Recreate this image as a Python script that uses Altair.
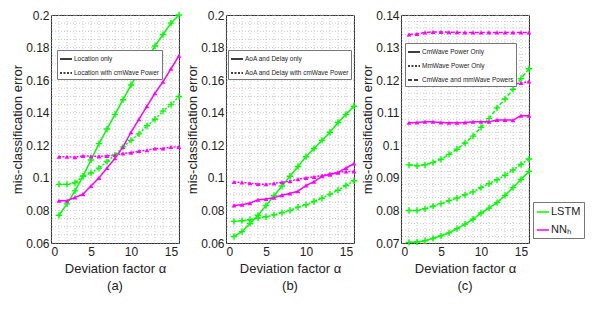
import altair as alt
import pandas as pd
import numpy as np

alpha = list(range(1, 17))
models = ["LSTM", "NNₕ"]
model_colors = ["#00ff00", "#ff00ff"]

# ---------------- panel (a) ----------------
a_styles = ["Location only", "Location with cmWave Power"]
a_lstm_loc = [0.077, 0.084, 0.092, 0.101, 0.111, 0.121, 0.130, 0.139, 0.148, 0.157, 0.165, 0.173, 0.181, 0.188, 0.195, 0.200]
a_lstm_cm = [0.096, 0.096, 0.097, 0.101, 0.103, 0.106, 0.110, 0.114, 0.119, 0.123, 0.127, 0.132, 0.136, 0.141, 0.145, 0.150]
a_nn_loc = [0.086, 0.086, 0.088, 0.090, 0.095, 0.100, 0.106, 0.112, 0.119, 0.128, 0.136, 0.144, 0.152, 0.159, 0.167, 0.175]
a_nn_cm = [0.113, 0.113, 0.1127, 0.1135, 0.1132, 0.1132, 0.1135, 0.114, 0.115, 0.1155, 0.1165, 0.117, 0.118, 0.118, 0.119, 0.119]

# ---------------- panel (b) ----------------
b_styles = ["AoA and Delay only", "AoA and Delay with cmWave Power"]
b_lstm_ad = [0.064, 0.067, 0.072, 0.077, 0.083, 0.089, 0.095, 0.101, 0.107, 0.113, 0.118, 0.123, 0.128, 0.134, 0.139, 0.144]
b_lstm_cm = [0.0733, 0.0737, 0.0743, 0.0753, 0.0761, 0.0773, 0.0786, 0.0800, 0.0820, 0.0835, 0.0855, 0.0875, 0.0900, 0.0924, 0.0953, 0.0982]
b_nn_ad = [0.0831, 0.0835, 0.0845, 0.0865, 0.0870, 0.0878, 0.0894, 0.0904, 0.0918, 0.0953, 0.0976, 0.1010, 0.1020, 0.1033, 0.1060, 0.1088]
b_nn_cm = [0.0975, 0.0972, 0.0967, 0.0962, 0.0961, 0.0966, 0.0973, 0.0980, 0.0992, 0.1000, 0.1006, 0.1014, 0.1025, 0.1033, 0.1039, 0.1039]

# ---------------- panel (c) ----------------
c_styles = ["CmWave Power Only", "MmWave Power Only", "CmWave and mmWave Powers"]
c_lstm_cm = [0.0702, 0.0703, 0.0707, 0.0714, 0.0722, 0.0731, 0.0744, 0.0758, 0.0773, 0.0792, 0.0807, 0.0824, 0.0846, 0.0870, 0.0895, 0.0920]
c_lstm_mm = [0.0800, 0.0800, 0.0805, 0.0813, 0.0821, 0.0830, 0.0838, 0.0848, 0.0857, 0.0870, 0.0882, 0.0894, 0.0908, 0.0924, 0.0941, 0.0958]
c_lstm_both = [0.0940, 0.0937, 0.0940, 0.0947, 0.0957, 0.0972, 0.0988, 0.1007, 0.1028, 0.1055, 0.1082, 0.1115, 0.1142, 0.1172, 0.1205, 0.1235]
c_nn_cm = [0.1069, 0.1070, 0.1072, 0.1072, 0.1070, 0.1069, 0.1069, 0.1070, 0.1072, 0.1072, 0.1072, 0.1078, 0.1078, 0.1077, 0.1091, 0.1091]
c_nn_mm = [0.1195, 0.1196, 0.1198, 0.1194, 0.1193, 0.1193, 0.1192, 0.1192, 0.1191, 0.1191, 0.1190, 0.1190, 0.1187, 0.1188, 0.1191, 0.1196]
c_nn_both = [0.1340, 0.1342, 0.1346, 0.1348, 0.1348, 0.1347, 0.1347, 0.1346, 0.1346, 0.1346, 0.1346, 0.1346, 0.1346, 0.1346, 0.1346, 0.1346]

FONT = "Liberation Sans"
PLUS = "M-1,0L1,0M0,-1L0,1"
PW, PH = 128, 228


def long_df(styles, lstm_series, nn_series):
    rows = []
    for st, vals in zip(styles, lstm_series):
        for x, v in zip(alpha, vals):
            rows.append({"alpha": x, "err": v, "model": models[0], "style": st})
    for st, vals in zip(styles, nn_series):
        for x, v in zip(alpha, vals):
            rows.append({"alpha": x, "err": v, "model": models[1], "style": st})
    return pd.DataFrame(rows)


def panel(df, styles, dashes, ydom, ymajor, yminor, dash_leg_xy, caption, color_legend):
    xs = alt.Scale(domain=[0, 16], nice=False, zero=False)
    ys = alt.Scale(domain=ydom, nice=False, zero=False)
    xgrid = pd.DataFrame({"alpha": np.arange(0, 17, 1)})
    ygrid = pd.DataFrame({"err": np.round(np.arange(ydom[0], ydom[1] + 1e-9, yminor), 4)})
    yvals = [float(v) for v in np.round(np.arange(ydom[0], ydom[1] + 1e-9, ymajor), 4)]

    xaxis = alt.Axis(values=[0, 5, 10, 15], grid=False, domain=False, ticks=False,
                     title="Deviation factor α", labelPadding=3, titlePadding=5)
    yaxis = alt.Axis(values=yvals, format="~g", grid=False, domain=False, ticks=False,
                     title="mis-classification error", labelPadding=2, titlePadding=1)
    X = alt.X("alpha:Q", scale=xs, axis=xaxis)
    Y = alt.Y("err:Q", scale=ys, axis=yaxis)

    vr = alt.Chart(xgrid).mark_rule(color="#bdbdbd", strokeDash=[1, 2], strokeWidth=0.8).encode(x=X)
    hr = alt.Chart(ygrid).mark_rule(color="#bdbdbd", strokeDash=[1, 2], strokeWidth=0.8).encode(y=Y)

    if color_legend:
        cleg = alt.Legend(orient="none", legendX=PW + 4, legendY=187, title=None,
                          fillColor="white", strokeColor="#777", padding=3,
                          labelFontSize=11, labelFont=FONT, labelColor="#222",
                          symbolType="stroke", symbolSize=144, symbolStrokeWidth=1.5,
                          rowPadding=6, labelOffset=1)
    else:
        cleg = None
    dleg = alt.Legend(orient="none", legendX=dash_leg_xy[0], legendY=dash_leg_xy[1], title=None,
                      fillColor="white", strokeColor="#777", padding=2,
                      labelFontSize=6.5, labelFont=FONT, labelColor="#222", labelLimit=300,
                      symbolType="stroke", symbolSize=144, symbolStrokeColor="black",
                      symbolStrokeWidth=1.5, rowPadding=3, labelOffset=1)

    lines = alt.Chart(df).mark_line(strokeWidth=1.5).encode(
        x=X, y=Y,
        color=alt.Color("model:N", scale=alt.Scale(domain=models, range=model_colors), legend=cleg),
        strokeDash=alt.StrokeDash("style:N", scale=alt.Scale(domain=styles, range=dashes), legend=dleg),
    )
    pts_l = alt.Chart(df).transform_filter(alt.datum.model == models[0]).mark_point(
        shape=PLUS, size=40, strokeWidth=1.4, color="#00ff00", filled=False, opacity=1).encode(x=X, y=Y)
    pts_n = alt.Chart(df).transform_filter(alt.datum.model == models[1]).mark_point(
        shape="triangle-up", size=22, filled=True, color="#ff00ff", opacity=1).encode(x=X, y=Y)

    return alt.layer(vr, hr, lines, pts_l, pts_n).properties(
        width=PW, height=PH,
        title=alt.TitleParams(caption, orient="bottom", offset=5, fontSize=13, font=FONT,
                              fontWeight="normal", color="#222"))


df_a = long_df(a_styles, [a_lstm_loc, a_lstm_cm], [a_nn_loc, a_nn_cm])
df_b = long_df(b_styles, [b_lstm_ad, b_lstm_cm], [b_nn_ad, b_nn_cm])
df_c = long_df(c_styles, [c_lstm_cm, c_lstm_mm, c_lstm_both], [c_nn_cm, c_nn_mm, c_nn_both])

pa = panel(df_a, a_styles, [[1, 0], [2, 1.5]], [0.06, 0.2], 0.02, 0.005, (6, 35), "(a)", False)
pb = panel(df_b, b_styles, [[1, 0], [2, 1.5]], [0.06, 0.2], 0.02, 0.005, (2, 35), "(b)", False)
pc = panel(df_c, c_styles, [[1, 0], [2, 1.5], [4, 2]], [0.07, 0.14], 0.01, 0.002, (4, 28), "(c)", True)

chart = alt.hconcat(pa, pb, pc, spacing=0).resolve_scale(
    x="independent", y="independent", color="independent", strokeDash="independent"
).properties(
    padding={"left": 3, "top": 0, "right": 0, "bottom": 0}
).configure_view(stroke="#333", strokeWidth=1).configure_axis(
    labelFont=FONT, titleFont=FONT, labelFontSize=12, titleFontSize=13,
    labelColor="#222", titleColor="#222", titleFontWeight="normal"
)

chart.save("out.html", embed_options={"renderer": "svg", "actions": False})
